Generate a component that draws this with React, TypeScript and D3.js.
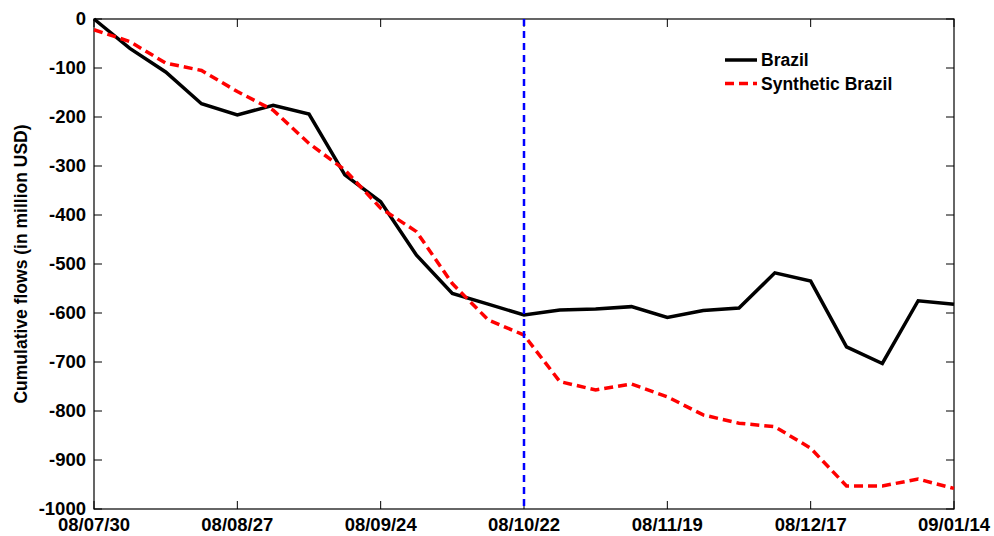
import React, { useRef, useEffect } from 'react';
import * as d3 from 'd3';

const weeks = [
  '08/07/30', '08/08/06', '08/08/13', '08/08/20', '08/08/27', '08/09/03', '08/09/10',
  '08/09/17', '08/09/24', '08/10/01', '08/10/08', '08/10/15', '08/10/22', '08/10/29',
  '08/11/05', '08/11/12', '08/11/19', '08/11/26', '08/12/03', '08/12/10', '08/12/17',
  '08/12/24', '08/12/31', '09/01/07', '09/01/14',
];
const brazil = [
  0, -60, -108, -173, -196, -176, -194, -318, -373, -482, -560, -582, -604,
  -594, -592, -587, -609, -595, -590, -518, -535, -669, -703, -575, -582,
];
const synthetic = [
  -22, -46, -90, -105, -148, -186, -254, -308, -386, -434, -540, -614, -645,
  -740, -757, -745, -771, -808, -825, -832, -876, -953, -953, -939, -958,
];
const xTickLabels = ['08/07/30', '08/08/27', '08/09/24', '08/10/22', '08/11/19', '08/12/17', '09/01/14'];
const yTicks = [0, -100, -200, -300, -400, -500, -600, -700, -800, -900, -1000];
const treatmentWeek = '08/10/22';

const W = 994;
const H = 536;
const FONT = 'Liberation Sans, Arial, sans-serif';

const App = () => {
  const svgRef = useRef(null);

  useEffect(() => {
    d3.select(svgRef.current).selectAll('*').remove();
    const svg = d3.select(svgRef.current);
    const margin = { top: 19, right: 40, bottom: 27, left: 94 };
    const iw = W - margin.left - margin.right;
    const ih = H - margin.top - margin.bottom;

    const parse = d3.timeParse('%y/%m/%d');
    const dates = weeks.map((w) => parse(w));

    const x = d3.scaleTime().domain([dates[0], dates[dates.length - 1]]).range([0, iw]);
    const y = d3.scaleLinear().domain([-1000, 0]).range([ih, 0]);

    const g = svg.append('g').attr('transform', `translate(${margin.left},${margin.top})`);

    // box
    g.append('rect')
      .attr('width', iw)
      .attr('height', ih)
      .attr('fill', 'none')
      .attr('stroke', '#000')
      .attr('stroke-width', 1.2);

    const xt = xTickLabels.map((d) => parse(d));
    const tick = 8;

    // inward ticks, bottom + top
    xt.forEach((d) => {
      const px = x(d);
      g.append('line').attr('x1', px).attr('x2', px).attr('y1', ih).attr('y2', ih - tick).attr('stroke', '#000');
      g.append('line').attr('x1', px).attr('x2', px).attr('y1', 0).attr('y2', tick).attr('stroke', '#000');
    });
    yTicks.forEach((v) => {
      const py = y(v);
      g.append('line').attr('x1', 0).attr('x2', tick).attr('y1', py).attr('y2', py).attr('stroke', '#000');
      g.append('line').attr('x1', iw).attr('x2', iw - tick).attr('y1', py).attr('y2', py).attr('stroke', '#000');
    });

    // tick labels
    g.selectAll('.xlab')
      .data(xTickLabels)
      .enter()
      .append('text')
      .attr('x', (d) => x(parse(d)))
      .attr('y', ih + 22)
      .attr('text-anchor', 'middle')
      .style('font-family', FONT)
      .style('font-weight', 'bold')
      .style('font-size', '18.5px')
      .text((d) => d);

    g.selectAll('.ylab')
      .data(yTicks)
      .enter()
      .append('text')
      .attr('x', -8)
      .attr('y', (d) => y(d))
      .attr('dy', '0.35em')
      .attr('text-anchor', 'end')
      .style('font-family', FONT)
      .style('font-weight', 'bold')
      .style('font-size', '18.5px')
      .text((d) => d);

    // y title
    svg
      .append('text')
      .attr('transform', `translate(27,${margin.top + ih / 2}) rotate(-90)`)
      .attr('text-anchor', 'middle')
      .style('font-family', FONT)
      .style('font-size', '17.5px')
      .style('font-weight', 'bold')
      .text('Cumulative flows (in million USD)');

    const line = d3
      .line()
      .x((d, i) => x(dates[i]))
      .y((d) => y(d));

    g.append('path')
      .datum(brazil)
      .attr('d', line)
      .attr('fill', 'none')
      .attr('stroke', '#000')
      .attr('stroke-width', 3.5)
      .attr('stroke-linejoin', 'miter');

    g.append('path')
      .datum(synthetic)
      .attr('d', line)
      .attr('fill', 'none')
      .attr('stroke', '#ff0000')
      .attr('stroke-width', 3.5)
      .attr('stroke-dasharray', '9,5');

    // treatment line
    const tx = x(parse(treatmentWeek));
    g.append('line')
      .attr('x1', tx)
      .attr('x2', tx)
      .attr('y1', 0)
      .attr('y2', ih)
      .attr('stroke', '#0000ff')
      .attr('stroke-width', 2.5)
      .attr('stroke-dasharray', '7,5');

    // legend
    const legend = [
      { name: 'Brazil', color: '#000', dash: null },
      { name: 'Synthetic Brazil', color: '#ff0000', dash: '9,5' },
    ];
    legend.forEach((l, i) => {
      const ly = 60 + i * 23.5 - margin.top;
      const lx = 725 - margin.left;
      g.append('line')
        .attr('x1', lx)
        .attr('x2', lx + 32)
        .attr('y1', ly)
        .attr('y2', ly)
        .attr('stroke', l.color)
        .attr('stroke-width', 3.5)
        .attr('stroke-dasharray', l.dash);
      g.append('text')
        .attr('x', lx + 36)
        .attr('y', ly)
        .attr('dy', '0.35em')
        .style('font-family', FONT)
        .style('font-weight', 'bold')
        .style('font-size', '17.5px')
        .text(l.name);
    });
  }, []);

  return (
    <svg
      ref={svgRef}
      width={W}
      height={H}
      style={{ position: 'absolute', left: 0, top: 0, background: '#fff' }}
    ></svg>
  );
};

export default App;
